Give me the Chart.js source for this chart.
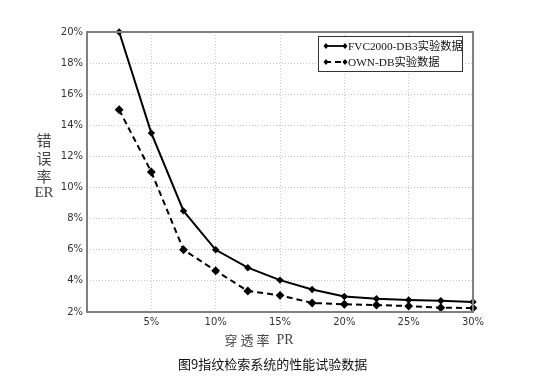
<!DOCTYPE html>
<html><head><meta charset="utf-8">
<script src="https://cdn.jsdelivr.net/npm/chart.js@4/dist/chart.umd.min.js"></script>
<style>html,body{margin:0;padding:0;background:#fff}#c{display:block}</style>
</head><body>
<canvas id="c" width="545" height="377"></canvas>
<script>
const prValues = [2.5, 5, 7.5, 10, 12.5, 15, 17.5, 20, 22.5, 25, 27.5, 30];
const fvcER = [20, 13.5, 8.5, 6.0, 4.85, 4.05, 3.45, 3.0, 2.85, 2.77, 2.72, 2.65];
const ownER = [15, 11, 6.0, 4.65, 3.35, 3.07, 2.58, 2.5, 2.45, 2.38, 2.28, 2.25];
const seriesNames = ['FVC2000-DB3实验数据', 'OWN-DB实验数据'];
const xTicks = [5, 10, 15, 20, 25, 30];
const yTicks = [2, 4, 6, 8, 10, 12, 14, 16, 18, 20];
const yTitleChars = ['错', '误', '率', 'ER'];
const caption = '图9指纹检索系统的性能试验数据';

const toXY = (xs, ys) => xs.map((x, i) => ({x: x, y: ys[i]}));

const decor = {
  id: 'decor',
  afterDraw(chart) {
    const ctx = chart.ctx, a = chart.chartArea;
    ctx.save();
    // frame
    ctx.strokeStyle = '#808080';
    ctx.lineWidth = 2;
    ctx.strokeRect(a.left, a.top, a.right - a.left, a.bottom - a.top);
    // y title
    ctx.fillStyle = '#444';
    ctx.textAlign = 'center';
    ctx.textBaseline = 'middle';
    ctx.font = '15px "Noto Sans CJK SC"';
    const yc = [140, 158, 176];
    for (let i = 0; i < 3; i++) ctx.fillText(yTitleChars[i], 44, yc[i]);
    ctx.font = '15px "Liberation Serif"';
    ctx.fillText(yTitleChars[3], 44, 193);
    // x title
    ctx.font = '13px "Noto Sans CJK SC"';
    ctx.fillText('穿 透 率', 247, 340);
    ctx.font = '14px "Liberation Serif"';
    ctx.fillText('PR', 285, 340);
    // caption
    ctx.fillStyle = '#111';
    ctx.font = '13px "Noto Sans CJK SC"';
    ctx.textAlign = 'left';
    ctx.fillText(caption, 178, 364);
    // legend
    const lx = 318, ly = 36, lw = 144, lh = 35;
    ctx.fillStyle = '#fff';
    ctx.fillRect(lx, ly, lw, lh);
    ctx.strokeStyle = '#333';
    ctx.lineWidth = 1;
    ctx.strokeRect(lx + 0.5, ly + 0.5, lw, lh);
    const rows = [ly + 10, ly + 26];
    chart.data.datasets.forEach((ds, i) => {
      const y = rows[i];
      ctx.strokeStyle = '#000';
      ctx.lineWidth = 1.8;
      ctx.setLineDash(ds.borderDash || []);
      ctx.beginPath(); ctx.moveTo(lx + 7, y); ctx.lineTo(lx + 28, y); ctx.stroke();
      ctx.setLineDash([]);
      ctx.fillStyle = '#000';
      [lx + 8, lx + 27].forEach(px => {
        ctx.beginPath();
        ctx.moveTo(px, y - 3); ctx.lineTo(px + 2.5, y); ctx.lineTo(px, y + 3); ctx.lineTo(px - 2.5, y);
        ctx.closePath(); ctx.fill();
      });
      ctx.fillStyle = '#111';
      ctx.font = '11.3px "Liberation Serif", "Noto Sans CJK SC"';
      ctx.textBaseline = 'middle';
      ctx.fillText(ds.label, lx + 30, y + 1);
    });
    ctx.restore();
  }
};

const gridOpts = {color: '#c4c4c4', drawTicks: false, lineWidth: 1};
const borderOpts = {display: false, dash: [1, 2]};

new Chart(document.getElementById('c'), {
  type: 'line',
  data: {
    datasets: [
      {label: seriesNames[0], data: toXY(prValues, fvcER), borderColor: '#000', backgroundColor: '#000',
       borderWidth: 2, pointStyle: 'rectRot', pointRadius: 2.3, tension: 0, clip: false},
      {label: seriesNames[1], data: toXY(prValues, ownER), borderColor: '#000', backgroundColor: '#000',
       borderWidth: 2, borderDash: [6, 4], pointStyle: 'rectRot', pointRadius: 3, tension: 0, clip: false}
    ]
  },
  options: {
    responsive: false,
    animation: false,
    layout: {padding: {left: 0, right: 72, top: 32, bottom: 0}},
    plugins: {legend: {display: false}, tooltip: {enabled: false}},
    scales: {
      x: {
        type: 'linear', min: 0, max: 30,
        afterFit(s) { s.height = 65; },
        afterBuildTicks(s) { s.ticks = xTicks.map(v => ({value: v})); },
        ticks: {color: '#333', font: {family: 'DejaVu Sans', size: 10}, padding: 4,
                callback: v => v + '%'},
        grid: gridOpts,
        border: borderOpts
      },
      y: {
        type: 'linear', min: 2, max: 20,
        afterFit(s) { s.width = 87; },
        afterBuildTicks(s) { s.ticks = yTicks.map(v => ({value: v})); },
        ticks: {color: '#333', font: {family: 'DejaVu Sans', size: 10}, padding: 4,
                callback: v => v + '%'},
        grid: gridOpts,
        border: borderOpts
      }
    }
  },
  plugins: [decor]
});
</script>
</body></html>
